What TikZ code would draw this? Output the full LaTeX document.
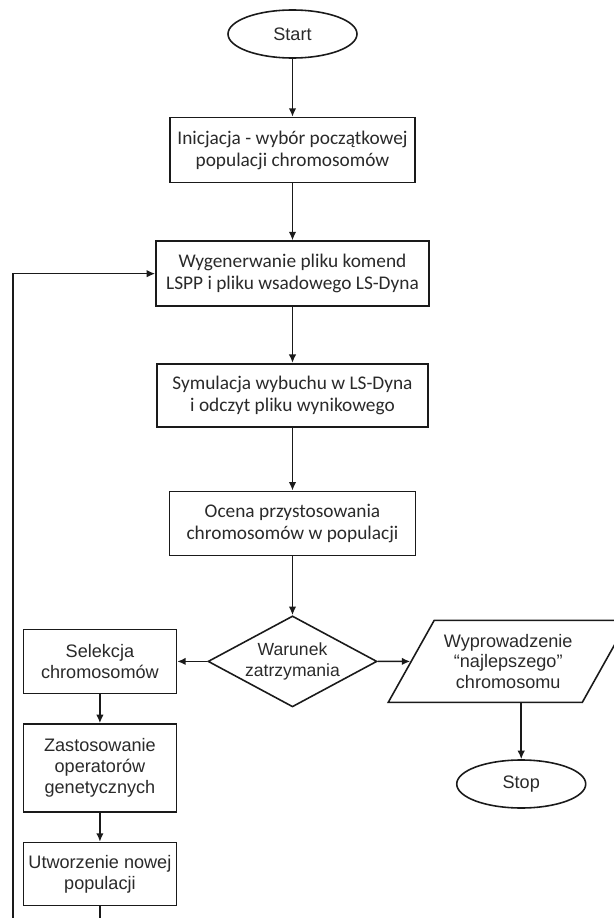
\documentclass[tikz,border=0pt]{standalone}
\usepackage{fontspec}
\setmainfont{Carlito}
\newfontfamily\arialfont{Liberation Sans}
\usetikzlibrary{arrows.meta,positioning,shapes.geometric}
\definecolor{LineBlack}{HTML}{1A1A1A}
\definecolor{TextGray}{HTML}{2A2A2A}
\tikzset{
  box/.style={draw=LineBlack, line width=0.9pt, fill=white, text=TextGray, inner sep=1mm, minimum height=1.3cm, align=center, font=\fontsize{11}{12.6}\selectfont},
  sbox/.style={draw=LineBlack, line width=0.9pt, fill=white, text=TextGray, inner sep=1mm, minimum width=3.06cm, align=center, font=\arialfont\fontsize{10.3}{11.8}\selectfont},
  term/.style={ellipse, draw=LineBlack, line width=0.9pt, inner sep=0pt, minimum width=2.58cm, minimum height=0.96cm, text=TextGray, font=\arialfont\fontsize{10.3}{12}\selectfont},
  cond/.style={diamond, draw=LineBlack, line width=0.9pt, aspect=1.86, inner sep=0pt, minimum width=3.38cm, minimum height=1.82cm, align=center, text=TextGray, font=\arialfont\fontsize{10}{11.8}\selectfont},
  io/.style={trapezium, trapezium left angle=50, trapezium right angle=130, trapezium stretches body, draw=LineBlack, line width=0.9pt, inner sep=0pt, minimum width=4.8cm, minimum height=1.64cm, align=center, text=TextGray, font=\arialfont\fontsize{10.3}{11.8}\selectfont},
  arr/.style={-{Latex[length=1.7mm,width=1.5mm]}, line width=0.9pt, draw=LineBlack},
  wire/.style={line width=0.9pt, draw=LineBlack}
}
\begin{document}
\begin{tikzpicture}
\useasboundingbox (-5.85,0.68) rectangle (6.41,-17.68);
\node[term] (start) {Start};
\node[box,minimum width=4.9cm,below=1.16cm of start] (init) {Inicjacja - wybór początkowej\\populacji chromosomów};
\node[box,minimum width=5.46cm,below=1.14cm of init] (gen) {Wygenerwanie pliku komend\\LSPP i pliku wsadowego LS-Dyna};
\node[box,minimum width=5.42cm,minimum height=1.26cm,below=1.12cm of gen] (sym) {Symulacja wybuchu w LS-Dyna\\i odczyt pliku wynikowego};
\node[box,minimum width=4.92cm,minimum height=1.28cm,below=1.26cm of sym] (ocena) {Ocena przystosowania\\chromosomów w populacji};
\node[cond,below=1.18cm of ocena] (war) {Warunek\\zatrzymania};
\node[sbox,minimum height=1.28cm,left=0.6cm of war] (sel) {Selekcja\\chromosomów};
\node[sbox,minimum height=1.76cm,below=0.58cm of sel] (zas) {Zastosowanie\\operatorów\\genetycznych};
\node[sbox,minimum height=1.26cm,below=0.58cm of zas] (utw) {Utworzenie nowej\\populacji};
\node[io,right=0.65cm of war] (wyj) {Wyprowadzenie\\“najlepszego”\\chromosomu};
\node[term,below=1.12cm of wyj.south,anchor=north,xshift=0.26cm] (stop) {Stop};
\coordinate (back) at (-5.59,-17.68);
\coordinate (drop) at (utw.south |- back);

\draw[arr] (start) -- (init);
\draw[arr] (init) -- (gen);
\draw[arr] (gen) -- (sym);
\draw[arr] (sym) -- (ocena);
\draw[arr] (ocena) -- (war);
\draw[arr] (war) -- (sel);
\draw[arr] (war) -- (wyj);
\draw[arr] (sel) -- (zas);
\draw[arr] (zas) -- (utw);
\draw[arr] (stop.north |- wyj.south) -- (stop);
\draw[wire] (utw) -- (drop);
\draw[arr] (back) |- (gen);
\end{tikzpicture}
\end{document}
